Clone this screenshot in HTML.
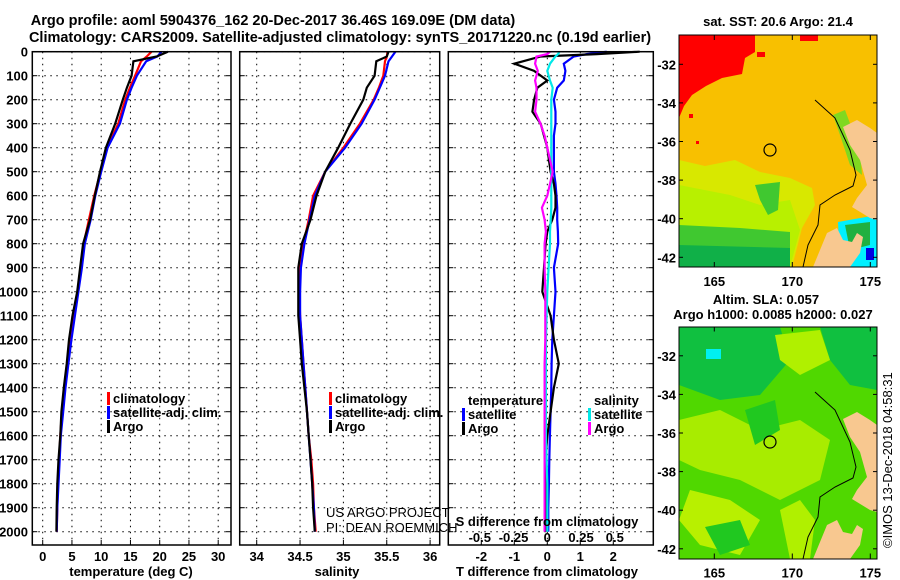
<!DOCTYPE html>
<html><head><meta charset="utf-8"><style>
html,body{margin:0;padding:0;background:#fff}
svg{display:block}
text{font-family:"Liberation Sans",sans-serif;fill:#000}
.b{font-weight:bold;font-size:13px}
.n{font-size:13px}
.t{font-weight:bold;font-size:14.5px}
</style></head><body>
<svg id="fig" width="900" height="580" viewBox="0 0 900 580">
<text class="t" x="273" y="25" text-anchor="middle">Argo profile: aoml 5904376_162 20-Dec-2017 36.46S 169.09E (DM data)</text>
<text class="t" x="340" y="42" text-anchor="middle">Climatology: CARS2009. Satellite-adjusted climatology: synTS_20171220.nc (0.19d earlier)</text>

<g id="g1"></g>
<g id="g2"></g>
<g id="g3"></g>

<!-- top map -->
<g>
<text class="b" x="778" y="26" text-anchor="middle">sat. SST: 20.6 Argo: 21.4</text>
<clipPath id="c1"><rect x="679" y="35" width="198" height="232"/></clipPath>
<g clip-path="url(#c1)">
<rect x="679" y="35" width="198" height="232" fill="#f8c000"/>
<polygon points="679,35 755,35 755,52 745,58 742,74 722,78 706,86 692,95 684,106 679,118" fill="#ff0000"/>
<rect x="800" y="35" width="18" height="6" fill="#ff0000"/><rect x="757" y="52" width="8" height="5" fill="#ff0000"/>
<rect x="689" y="114" width="4" height="4" fill="#ff0000"/><rect x="696" y="141" width="3" height="3" fill="#ff0000"/>
<polygon points="679,160 705,166 735,160 760,172 790,178 812,188 815,205 802,228 792,267 679,267" fill="#d8e800"/>
<polygon points="679,185 730,195 760,205 790,200 800,230 790,267 679,267" fill="#b8f000"/>
<polygon points="679,225 740,228 790,232 790,267 679,267" fill="#40c830"/>
<polygon points="679,245 790,248 790,267 679,267" fill="#10b048"/>
<polygon points="755,185 780,182 778,210 768,215 760,200" fill="#40c830"/>
<polygon points="833,115 845,110 860,150 862,175 850,165 840,135" fill="#80d820"/>
<polygon points="838,222 877,215 877,267 840,267" fill="#00f0ff"/>
<polygon points="845,225 870,222 870,245 850,250" fill="#20b040"/>
<rect x="866" y="248" width="8" height="12" fill="#0000e0"/>
<polygon points="843,127 857,120 870,128 877,133 877,220 870,218 852,207 857,198 867,185 860,160 850,145" fill="#f8c890"/>
<polygon points="813,267 827,233 837,228 843,240 852,242 857,233 863,237 860,253 850,267" fill="#f8c890"/>
<polyline points="815,100 835,118 850,150 856,175 853,186 835,195 820,205 818,225 808,245 803,267" fill="none" stroke="#000" stroke-width="1"/>
</g>
<rect x="679" y="35" width="198" height="232" fill="none" stroke="#000" stroke-width="1"/>
<circle cx="770" cy="150" r="6" fill="none" stroke="#000" stroke-width="1.2"/>
</g>

<!-- bottom map -->
<g>
<text class="b" x="766" y="304" text-anchor="middle">Altim. SLA: 0.057</text>
<text class="b" x="773" y="319" text-anchor="middle">Argo h1000: 0.0085 h2000: 0.027</text>
<clipPath id="c2"><rect x="679" y="327" width="198" height="232"/></clipPath>
<g clip-path="url(#c2)">
<rect x="679" y="327" width="198" height="232" fill="#50d800"/>
<polygon points="679,327 780,327 790,360 760,395 720,400 679,385" fill="#10c040"/>
<polygon points="820,327 877,327 877,390 850,385 830,360" fill="#10c040"/>
<polygon points="775,335 820,330 830,360 800,375 780,360" fill="#b0f000"/>
<polygon points="679,420 720,410 760,430 800,420 830,440 820,480 780,500 740,480 700,470 679,460" fill="#a8ec00"/>
<polygon points="690,490 730,500 760,520 740,555 700,545 679,520" fill="#b8f000"/>
<polygon points="745,410 775,400 780,430 755,445" fill="#20c820"/>
<polygon points="780,510 800,500 815,520 810,559 790,559" fill="#b0f000"/>
<polygon points="705,527 740,520 750,545 720,555" fill="#20c820"/>
<rect x="706" y="349" width="15" height="10" fill="#00f0f0"/>
<polygon points="843,419 857,412 870,420 877,425 877,512 870,510 852,499 857,490 867,477 860,452 850,437" fill="#f8c890"/>
<polygon points="813,559 827,525 837,520 843,532 852,534 857,525 863,529 860,545 850,559" fill="#f8c890"/>
<polyline points="815,392 835,410 850,442 856,467 853,478 835,487 820,497 818,517 808,537 803,559" fill="none" stroke="#000" stroke-width="1"/>
</g>
<rect x="679" y="327" width="198" height="232" fill="none" stroke="#000" stroke-width="1"/>
<circle cx="770" cy="442" r="6" fill="none" stroke="#000" stroke-width="1.2"/>
</g>
<text x="0" y="0" transform="translate(892,548) rotate(-90)" font-size="13">©IMOS 13-Dec-2018 04:58:31</text>
<g id="maxes"></g>
</svg>
<script>
// ---- data ----
const depths = [0,20,40,100,150,200,300,400,500,600,700,800,900,1000,1100,1200,1300,1400,1500,1600,1700,1800,1900,2000];
const tempArgo = [21.4,19.5,15.5,15.2,14.4,13.7,12.4,10.8,9.8,8.9,8.1,6.9,6.4,5.9,5.1,4.5,4.1,3.6,3.2,3.0,2.7,2.5,2.4,2.35];
const tempClim = [18.6,17.8,16.8,15.8,14.9,14.1,12.9,11.0,9.9,8.8,7.9,7.0,6.5,6.0,5.3,4.7,4.2,3.7,3.3,3.0,2.8,2.6,2.5,2.4];
const tempSat = [20.3,19.6,17.7,16.1,15.2,14.4,13.2,11.1,10.0,9.0,8.2,7.2,6.7,6.1,5.5,4.9,4.4,3.9,3.5,3.1,2.9,2.7,2.5,2.4];
const salArgo = [35.52,35.50,35.38,35.36,35.27,35.23,35.08,34.94,34.79,34.69,34.62,34.52,34.48,34.48,34.48,34.50,34.52,34.55,34.58,34.60,34.62,34.64,34.65,34.67];
const salClim = [35.51,35.50,35.48,35.46,35.41,35.35,35.19,35.00,34.79,34.65,34.60,34.54,34.50,34.49,34.50,34.52,34.54,34.56,34.58,34.60,34.63,34.65,34.66,34.68];
const salSat = [35.60,35.56,35.52,35.48,35.42,35.36,35.21,35.02,34.79,34.67,34.61,34.55,34.51,34.50,34.50,34.52,34.54,34.56,34.58,34.60,34.62,34.64,34.66,34.67];
const diffDepths = [0,10,20,50,80,120,150,200,250,300,350,400,450,500,550,600,650,700,750,800,900,1000,1100,1200,1300,1400,1500,1600,1700,1800,1900,2000];
const dTArgo = [2.8,1.5,-0.2,-1.0,-0.4,0,-0.3,-0.4,-0.45,-0.2,-0.1,0,0.05,0.1,0.2,0.25,0.25,0.15,0,-0.05,-0.1,-0.15,0.1,0.2,0.35,0.2,0.1,0,-0.05,-0.05,-0.05,-0.05];
const dTSat = [1.8,1.2,0.8,0.5,0.55,0.5,0.3,0.2,0.25,0.25,0.2,0.2,0.2,0.2,0.25,0.28,0.3,0.3,0.32,0.33,0.2,0.25,0.2,0.15,0.13,0.12,0.1,0.08,0.06,0.05,0.03,0.03];
const dSSat = [0.09,0.08,0.06,0.02,0,0.02,0.04,0.03,0.03,0.03,0.03,0.03,0.03,0.03,0.03,0.03,0.03,0.025,0.02,0.02,0.01,0,-0.005,-0.01,-0.01,-0.01,-0.01,-0.01,-0.005,0,0,0];
const dSArgo = [0.02,0,-0.08,-0.09,-0.07,-0.09,-0.08,-0.08,-0.09,-0.05,-0.02,0,0.02,0.04,0.02,0,-0.04,-0.02,-0.01,-0.02,-0.02,-0.015,-0.015,-0.015,-0.02,-0.02,-0.02,-0.02,-0.02,-0.02,-0.02,-0.02];
const depthTicks = [0,100,200,300,400,500,600,700,800,900,1000,1100,1200,1300,1400,1500,1600,1700,1800,1900,2000];
const tempTicks = [0,5,10,15,20,25,30];
const salTicks = [34,34.5,35,35.5,36];
const salTickLabels = ["34","34.5","35","35.5","36"];
const dTTicks = [-2,-1,0,1,2];
const dSTicks = [-0.5,-0.25,0,0.25,0.5];
const latTicks = [-32,-34,-36,-38,-40,-42];
const lonTicks = [165,170,175];

// ---- axes ----
const NS="http://www.w3.org/2000/svg";
const TOP=51.7, BOT=545;
const yD = d => TOP + d*0.24;
const xT = t => 42.7 + t*5.85;
const xS = s => 256.7 + (s-34)*86.7;
const xDT = v => 547.3 + v*33;
const xDS = v => 547.3 + v*135;
function mk(parent,tag,attrs){const e=document.createElementNS(NS,tag);for(const k in attrs)e.setAttribute(k,attrs[k]);parent.appendChild(e);return e;}
function txt(parent,x,y,s,anchor,cls){const e=mk(parent,'text',{x:x,y:y,'text-anchor':anchor||'middle','class':cls||'b'});e.textContent=s;return e;}

function frame(g,L,R,name){
  depthTicks.forEach(d=>{
    const l=mk(g,'line',{x1:L,x2:R,y1:yD(d),y2:yD(d),stroke:'#000','stroke-width':1,'stroke-dasharray':'1.5,4.5'});
    
    
    mk(g,'line',{x1:L,x2:L+5,y1:yD(d),y2:yD(d),stroke:'#000'});
    mk(g,'line',{x1:R-5,x2:R,y1:yD(d),y2:yD(d),stroke:'#000'});
  });
}
function vgrid(g,vals,fx,L,R,name){
  vals.forEach(v=>{
    const x=fx(v);
    const l=mk(g,'line',{x1:x,x2:x,y1:TOP,y2:BOT,stroke:'#000','stroke-width':1,'stroke-dasharray':'1.5,4.5'});
    
    
    mk(g,'line',{x1:x,x2:x,y1:BOT-5,y2:BOT,stroke:'#000'});
  });
}
function border(g,L,R,name){
  const r=mk(g,'rect',{x:L,y:TOP,width:R-L,height:BOT-TOP,fill:'none',stroke:'#000','stroke-width':1.5});
  
  
}
function line(g,xs,ds,fx,color,name){
  const pts=xs.map((v,i)=>fx(v).toFixed(1)+','+yD(ds[i]).toFixed(1)).join(' ');
  const p=mk(g,'polyline',{points:pts,fill:'none',stroke:color,'stroke-width':2.2});
  
  
}
function legendItem(g,x,y,color,label,name){
  mk(g,'rect',{x:x-6,y:y-11,width:3,height:13,fill:color});
  const t=txt(g,x,y,label,'start');
  
  
}

// panel 1
const g1=document.getElementById('g1');
frame(g1,32.3,231,'temp');
vgrid(g1,tempTicks,xT,32.3,231,'temp');
depthTicks.forEach(d=>{const t=txt(g1,28,yD(d)+5,String(d),'end');});
tempTicks.forEach(v=>{const t=txt(g1,xT(v),561,String(v));});
line(g1,tempClim,depths,xT,'#ff0000','temp-climatology-line');
line(g1,tempSat,depths,xT,'#0000ff','temp-satellite-line');
line(g1,tempArgo,depths,xT,'#000000','temp-argo-line');
border(g1,32.3,231,'temp');
legendItem(g1,113,403,'#ff0000','climatology','temp-legend-climatology');
legendItem(g1,113,417,'#0000ff','satellite-adj. clim.','temp-legend-satellite');
legendItem(g1,113,431,'#000000','Argo','temp-legend-argo');
{const t=txt(g1,131,576,'temperature (deg C)');}

// panel 2
const g2=document.getElementById('g2');
frame(g2,239.7,439.7,'sal');
vgrid(g2,salTicks,xS,239.7,439.7,'sal');
salTicks.forEach((v,i)=>{const t=txt(g2,xS(v),561,salTickLabels[i]);});
line(g2,salClim,depths,xS,'#ff0000','sal-climatology-line');
line(g2,salSat,depths,xS,'#0000ff','sal-satellite-line');
line(g2,salArgo,depths,xS,'#000000','sal-argo-line');
border(g2,239.7,439.7,'sal');
legendItem(g2,335,403,'#ff0000','climatology','sal-legend-climatology');
legendItem(g2,335,417,'#0000ff','satellite-adj. clim.','sal-legend-satellite');
legendItem(g2,335,431,'#000000','Argo','sal-legend-argo');
{const t=txt(g2,337,576,'salinity');}
{const t=txt(g2,326,517,'US ARGO PROJECT','start','n');
 const t2=txt(g2,326,532,'PI: DEAN ROEMMICH','start','n');}

// panel 3
const g3=document.getElementById('g3');
frame(g3,448.3,653.3,'diff');
vgrid(g3,dTTicks,xDT,448.3,653.3,'diff');
dTTicks.forEach(v=>{const t=txt(g3,xDT(v),561,String(v));});
dSTicks.forEach(v=>{const t=txt(g3,xDS(v),542,String(v));});
line(g3,dTSat,diffDepths,xDT,'#0000ff','tdiff-satellite-line');
line(g3,dTArgo,diffDepths,xDT,'#000000','tdiff-argo-line');
line(g3,dSSat,diffDepths,xDS,'#00e8e8','sdiff-satellite-line');
line(g3,dSArgo,diffDepths,xDS,'#ff00ff','sdiff-argo-line');
border(g3,448.3,653.3,'diff');
{const t=txt(g3,468,405,'temperature','start');}
legendItem(g3,468,419,'#0000ff','satellite','diff-legend-tsat');
legendItem(g3,468,433,'#000000','Argo','diff-legend-targo');
{const t=txt(g3,594,405,'salinity','start');}
legendItem(g3,594,419,'#00e8e8','satellite','diff-legend-ssat');
legendItem(g3,594,433,'#ff00ff','Argo','diff-legend-sargo');
{const t=txt(g3,547,526,'S difference from climatology');}
{const t=txt(g3,547,576,'T difference from climatology');}

// map axes
const ma=document.getElementById('maxes');
const latY=(lat,off)=>64.3+off+(-32-lat)*19.3;
const lonX=lon=>714.3+(lon-165)*15.6;
[0,291.5].forEach(off=>{
  latTicks.forEach(l=>{const t=txt(ma,676,latY(l,off)+5,String(l),'end');
    mk(ma,'line',{x1:679,x2:683,y1:latY(l,off),y2:latY(l,off),stroke:'#000'});mk(ma,'line',{x1:873,x2:877,y1:latY(l,off),y2:latY(l,off),stroke:'#000'});});
  lonTicks.forEach(l=>{const t=txt(ma,lonX(l),off+286,String(l));
    mk(ma,'line',{x1:lonX(l),x2:lonX(l),y1:off+262,y2:off+267,stroke:'#000'});mk(ma,'line',{x1:lonX(l),x2:lonX(l),y1:off+35,y2:off+40,stroke:'#000'});});
});
</script>
</body></html>
